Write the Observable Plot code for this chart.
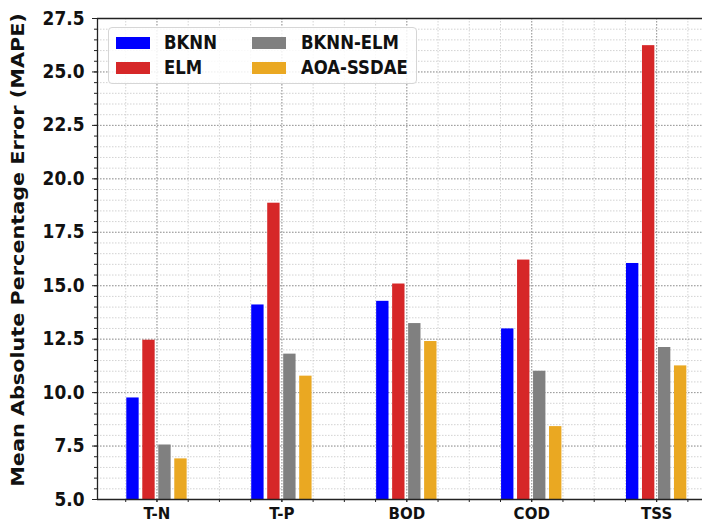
<!DOCTYPE html>
<html>
<head>
<meta charset="utf-8">
<script src="https://cdn.jsdelivr.net/npm/d3@7"></script>
<script src="https://cdn.jsdelivr.net/npm/@observablehq/plot@0.6"></script>
<style>
  html, body { margin: 0; padding: 0; background: #fff; }
  #wrap { position: relative; width: 702px; height: 523px; overflow: hidden; font-family: "DejaVu Sans", sans-serif; font-weight: bold; }
  #legend { position: absolute; left: 108px; top: 27px; width: 307px; height: 55px; border: 1px solid #d6d6d6; border-radius: 4px; background: rgba(255,255,255,0.85); }
  .sw { position: absolute; width: 34px; height: 12px; }
  .lt { position: absolute; font-size: 16.5px; line-height: 20px; color: #111; transform: scaleY(1.15); transform-origin: left center; }
</style>
</head>
<body>
<div id="wrap"></div>
<script>
// ---- data ----
const categories = ["T-N", "T-P", "BOD", "COD", "TSS"];
const seriesNames = ["BKNN", "ELM", "BKNN-ELM", "AOA-SSDAE"];
const bknn     = [9.75, 14.10, 14.27, 12.98, 16.04];
const elm      = [12.45, 18.86, 15.08, 16.20, 26.23];
const bknnElm  = [7.55, 11.80, 13.23, 11.00, 12.11];
const aoaSsdae = [6.90, 10.77, 12.39, 8.41, 11.25];
const seriesValues = [bknn, elm, bknnElm, aoaSsdae];
const colors = ["#0000ff", "#d62728", "#808080", "#eaa822"];
const yTicks = [5.0, 7.5, 10.0, 12.5, 15.0, 17.5, 20.0, 22.5, 25.0, 27.5];
const yTitle = "Mean Absolute Percentage Error (MAPE)";

// ---- table ----
const step = 0.128, barW = 0.099;
const rows = [];
seriesValues.forEach((vals, si) => vals.forEach((v, ci) => {
  const xc = ci + (si - 1.5) * step;
  rows.push({series: seriesNames[si], category: categories[ci], x1: xc - barW / 2, x2: xc + barW / 2, value: v});
}));

const xDomain = [-0.476, 4.367];
const yMinor = d3.range(5, 27.5001, 0.5);
const xMinor = d3.range(-0.25, 4.5, 0.25);
const xMajor = categories.map((_, i) => i);

const plot = Plot.plot({
  width: 702,
  height: 523,
  marginLeft: 97,
  marginRight: 0,
  marginTop: 18,
  marginBottom: 24,
  style: {fontFamily: "DejaVu Sans", fontWeight: "bold", fontSize: "17px", color: "#111", background: "#fff"},
  x: {domain: xDomain, axis: null},
  y: {domain: [5, 27.5], axis: null, label: null},
  color: {domain: seriesNames, range: colors},
  marks: [
    Plot.ruleY(yMinor, {stroke: "#c8c8c8", strokeWidth: 0.8, strokeDasharray: "1.5,1.5"}),
    Plot.ruleX(xMinor, {stroke: "#c8c8c8", strokeWidth: 0.8, strokeDasharray: "1.5,1.5"}),
    Plot.ruleY(yTicks, {stroke: "#9a9a9a", strokeWidth: 1, strokeDasharray: "1.5,1.5"}),
    Plot.ruleX(xMajor, {stroke: "#9a9a9a", strokeWidth: 1, strokeDasharray: "1.5,1.5"}),
    Plot.rectY(rows, {x1: "x1", x2: "x2", y1: 5, y2: "value", fill: "series"}),
    Plot.axisY(yMinor, {tickSize: 3, tickFormat: () => "", stroke: "#222"}),
    Plot.axisY(yTicks, {tickSize: 5, tickPadding: 8, tickFormat: d => d.toFixed(1), fontSize: 17, stroke: "#222", label: null}),
    Plot.axisX(xMinor, {tickSize: 3, tickFormat: () => "", stroke: "#222"}),
    Plot.axisX(xMajor, {tickSize: 3, tickPadding: 6, tickFormat: i => categories[i], fontSize: 15, stroke: "#222", label: null}),
    Plot.ruleX([xDomain[0]], {stroke: "#222", strokeWidth: 1.3}),
    Plot.ruleY([5], {stroke: "#222", strokeWidth: 1.3}),
    Plot.ruleY([27.5], {stroke: "#222", strokeWidth: 1.3}),
    Plot.text([yTitle], {frameAnchor: "left", textAnchor: "middle", rotate: -90, dx: -79, dy: -9, fontSize: 17, fill: "#111"})
  ]
});

document.getElementById("wrap").appendChild(plot);

// stretch the y title along its length to the reference's extent
d3.select(plot).selectAll("text").filter(function() { return this.textContent === yTitle; })
  .each(function() {
    const len = this.getComputedTextLength();
    const t = this.getAttribute("transform") || "";
    this.setAttribute("transform", t + " scale(" + (474 / len) + ",1)");
  });

// slight vertical stretch of y tick labels, as in the reference image
d3.select(plot).selectAll("text").filter(function() {
  const s = this.textContent;
  return yTicks.some(v => v.toFixed(1) === s);
}).each(function() {
  const t = this.getAttribute("transform") || "";
  this.setAttribute("transform", t + " scale(1,1.12)");
});

// ---- legend ----
const legend = document.createElement("div");
legend.id = "legend";
const pos = [[7, 14.5, 55], [7, 40, 55], [143, 14.5, 192], [143, 40, 192]];
seriesNames.forEach((name, i) => {
  const [sx, cy, tx] = pos[i];
  const sw = document.createElement("div");
  sw.className = "sw";
  sw.style.left = sx + "px";
  sw.style.top = (cy - 6) + "px";
  sw.style.background = colors[i];
  legend.appendChild(sw);
  const t = document.createElement("div");
  t.className = "lt";
  t.style.left = tx + "px";
  t.style.top = (cy - 10) + "px";
  t.textContent = name;
  legend.appendChild(t);
});
document.getElementById("wrap").appendChild(legend);
</script>
</body>
</html>
